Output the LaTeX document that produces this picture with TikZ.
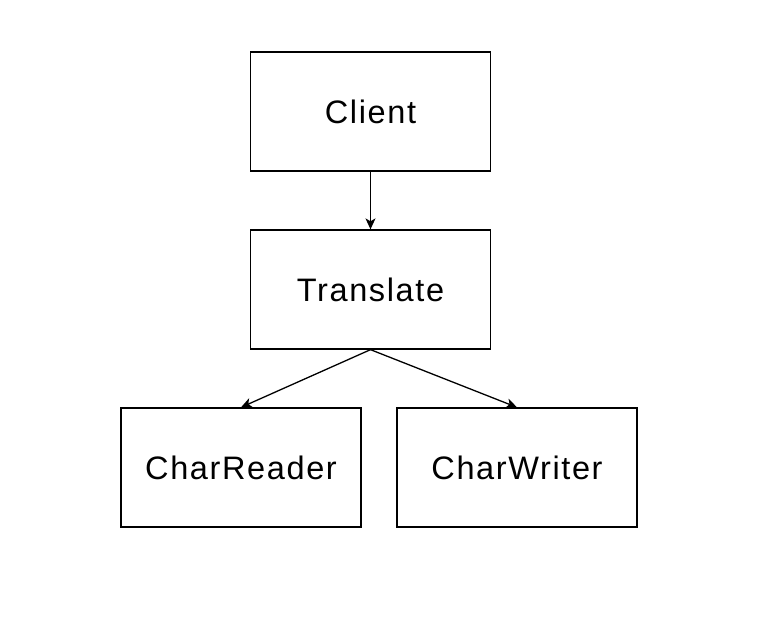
\documentclass[tikz,border=0pt]{standalone}
\usepackage{fontspec}
\setmainfont{Liberation Sans}
\newfontfamily\boxfont[LetterSpace=5]{Liberation Sans}
\usetikzlibrary{arrows.meta}
\begin{document}
\begin{tikzpicture}[x=1pt,y=-1pt,
  box/.style={draw, line width=1.3pt, minimum width=240pt, minimum height=119pt, inner sep=0pt, font=\boxfont\fontsize{32.5}{36}\selectfont},
  conn/.style={line width=1.3pt, -{Stealth[length=11pt,width=10pt,inset=3pt]}}]
\useasboundingbox (0,0) rectangle (764,630);
\node[box] (client) at (370.5,111.5) {Client};
\node[box] (translate) at (370.5,289.5) {Translate};
\node[box] (reader) at (241,467.5) {CharReader};
\node[box] (writer) at (517,467.5) {CharWriter};
\draw[conn] (client.south) -- (translate.north);
\draw[conn] (translate.south) -- (reader.north);
\draw[conn] (translate.south) -- (writer.north);
\end{tikzpicture}
\end{document}
